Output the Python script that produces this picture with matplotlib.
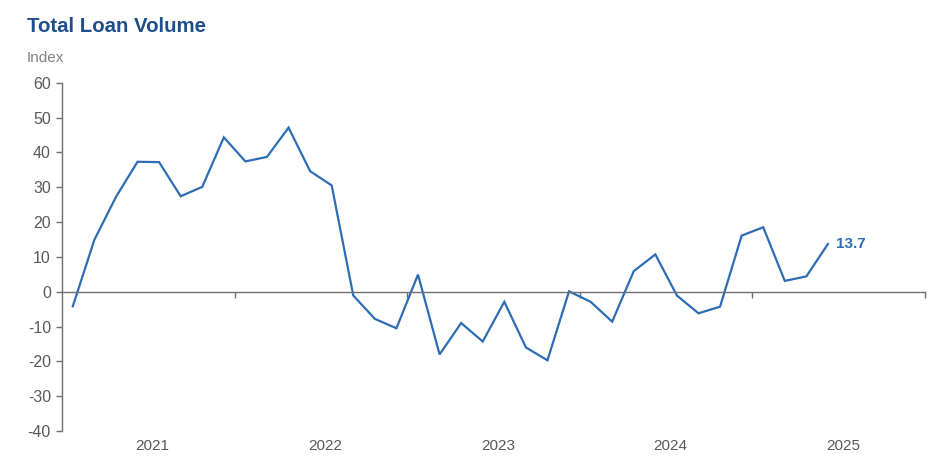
import matplotlib.pyplot as plt
import matplotlib.transforms as mtransforms

plt.rcParams['font.family'] = ['Liberation Sans', 'DejaVu Sans']

# survey index, 8 readings per year, starting 2021
values = [-4.2, 14.9, 27.2, 37.3, 37.2, 27.4, 30.1, 44.3,
          37.4, 38.7, 47.1, 34.6, 30.5, -1.1, -7.8, -10.5,
          4.9, -18.0, -9.0, -14.3, -2.9, -16.0, -19.7, 0.1,
          -2.9, -8.6, 5.9, 10.7, -1.1, -6.2, -4.3, 16.1,
          18.5, 3.1, 4.4, 13.7]
years = ["2021", "2022", "2023", "2024", "2025"]
per_year = 8
yticks = [60, 50, 40, 30, 20, 10, 0, -10, -20, -30, -40]

line_color = "#2e6db4"
text_gray = "#595959"
axis_gray = "#707070"

fig = plt.figure(figsize=(9.51, 4.68), dpi=100)
ax = fig.add_axes([0.0652, 0.079, 0.9075, 0.7443])

x = list(range(len(values)))
ax.plot(x, values, color=line_color, linewidth=1.6, solid_joinstyle="miter")

ax.set_xlim(-0.5, len(years) * per_year - 0.5)
ax.set_ylim(-40, 60)

for s in ["top", "right"]:
    ax.spines[s].set_visible(False)
ax.spines["left"].set_color(axis_gray)
ax.spines["left"].set_linewidth(1.0)
ax.spines["bottom"].set_position(("data", 0))
ax.spines["bottom"].set_color(axis_gray)
ax.spines["bottom"].set_linewidth(1.0)

ax.set_yticks(yticks)
ax.set_yticklabels([str(v) for v in yticks])
ax.tick_params(axis="y", direction="out", length=4, width=1, color=axis_gray,
               labelcolor=text_gray, labelsize=11.5, pad=4)

bounds = [per_year * (i + 1) - 0.5 for i in range(len(years))]
ax.set_xticks(bounds)
ax.set_xticklabels([])
ax.tick_params(axis="x", direction="out", length=4, width=1, color=axis_gray)

trans = mtransforms.blended_transform_factory(ax.transData, ax.transAxes)
for i, yr in enumerate(years):
    ax.text(per_year * i + 3.7, -0.044, yr, transform=trans, ha="center",
            va="center", color=text_gray, fontsize=11)

ax.annotate("%.1f" % values[-1], (x[-1], values[-1]), xytext=(5.5, 0),
            textcoords="offset points", color=line_color, fontsize=11,
            fontweight="bold", va="center", ha="left")

fig.text(27 / 951, 1 - 27 / 468, "Total Loan Volume", color="#1f4e8c",
         fontsize=14.7, fontweight="bold", va="center", ha="left")
fig.text(27 / 951, 1 - 58 / 468, "Index", color="#808080", fontsize=11,
         va="center", ha="left")

fig.savefig("out.png", dpi=100)
